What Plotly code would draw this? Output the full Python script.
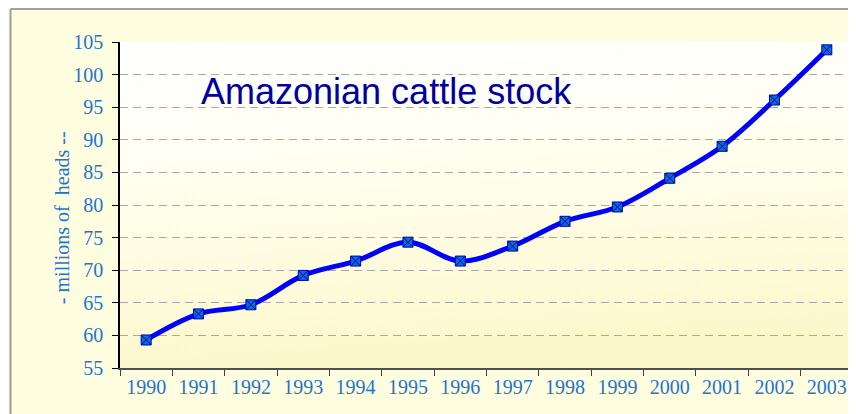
"""
Amazonian cattle stock, 1990-2003 (millions of heads).
"""

import base64

import plotly.graph_objects as go

years = ["1990", "1991", "1992", "1993", "1994", "1995", "1996",
         "1997", "1998", "1999", "2000", "2001", "2002", "2003"]
cattle_millions = [59.3, 63.3, 64.7, 69.2, 71.4, 74.3, 71.4,
                   73.7, 77.5, 79.7, 84.1, 89.0, 96.1, 103.8]
y_ticks = [55, 60, 65, 70, 75, 80, 85, 90, 95, 100, 105]

TICK_BLUE = "#1f74cf"
LINE_BLUE = "#0000ff"
PALE_YELLOW = "#fefde0"
SERIF = "Liberation Serif, Times New Roman, serif"

# vertical gradient for the plot area: white at the top, pale yellow below
_grad_svg = (
    '<svg xmlns="http://www.w3.org/2000/svg" width="100" height="100" '
    'viewBox="0 0 100 100" preserveAspectRatio="none">'
    '<defs><linearGradient id="g" x1="0" y1="0" x2="0.15" y2="1">'
    '<stop offset="0" stop-color="#ffffff"/>'
    '<stop offset="0.35" stop-color="#fffff3"/>'
    '<stop offset="1" stop-color="#fcf8cc"/>'
    '</linearGradient></defs>'
    '<rect width="100" height="100" fill="url(#g)"/></svg>'
)
GRADIENT_URI = "data:image/svg+xml;base64," + base64.b64encode(_grad_svg.encode()).decode()

fig = go.Figure(
    go.Scatter(
        x=years,
        y=cattle_millions,
        mode="lines+markers",
        line=dict(color=LINE_BLUE, width=5, shape="spline", smoothing=1.0),
        marker=dict(
            symbol="square-x",
            size=10,
            color="#0a6ad6",
            line=dict(color="#0000b0", width=1),
        ),
        showlegend=False,
        cliponaxis=False,
    )
)

# the page body adds an 8px offset, so the figure is 848x406 and sits at (8, 8)
fig.update_layout(
    width=848,
    height=406,
    margin=dict(l=112, r=3, t=34, b=46),
    paper_bgcolor=PALE_YELLOW,
    plot_bgcolor="rgba(0,0,0,0)",
    font=dict(family=SERIF, size=20, color=TICK_BLUE),
    images=[
        dict(
            source=GRADIENT_URI,
            xref="paper", yref="paper",
            x=0, y=1, sizex=1, sizey=1,
            xanchor="left", yanchor="top",
            sizing="stretch",
            layer="below",
        )
    ],
    shapes=[
        # grey frame edges (top and left)
        dict(type="line", xref="paper", yref="paper",
             x0=-0.1494, x1=1.1, y0=1.1012, y1=1.1012,
             line=dict(color="#a0a0a0", width=2)),
        dict(type="line", xref="paper", yref="paper",
             x0=-0.1494, x1=-0.1494, y0=-0.2, y1=1.1012,
             line=dict(color="#a0a0a0", width=2)),
    ],
    annotations=[
        dict(
            text="Amazonian cattle stock",
            xref="paper", yref="paper",
            x=0.108, y=0.847,
            xanchor="left", yanchor="middle",
            showarrow=False,
            font=dict(family="Liberation Sans, Arial, sans-serif", size=36, color="#0000a0"),
        ),
        dict(
            text="- millions of  heads --",
            xref="paper", yref="paper",
            x=-0.079, y=0.46,
            xanchor="center", yanchor="middle",
            textangle=-90,
            showarrow=False,
            font=dict(family=SERIF, size=20, color=TICK_BLUE),
        ),
    ],
)

fig.update_xaxes(
    type="category",
    range=[-0.5, len(years) - 0.5],
    tickson="boundaries",
    ticks="outside",
    ticklen=6,
    tickcolor="#404040",
    showline=True,
    linecolor="#505050",
    linewidth=2,
    showgrid=False,
    tickfont=dict(size=20, color=TICK_BLUE),
)

fig.update_yaxes(
    range=[55, 105],
    tickvals=y_ticks,
    ticks="outside",
    ticklen=6,
    tickcolor="#000000",
    ticklabelstandoff=5,
    showline=True,
    linecolor="#000000",
    linewidth=1.5,
    showgrid=True,
    gridcolor="#a8a8a8",
    griddash="8px,5px",
    gridwidth=1,
    zeroline=False,
    tickfont=dict(size=20, color=TICK_BLUE),
)

fig.write_html("out.html")
